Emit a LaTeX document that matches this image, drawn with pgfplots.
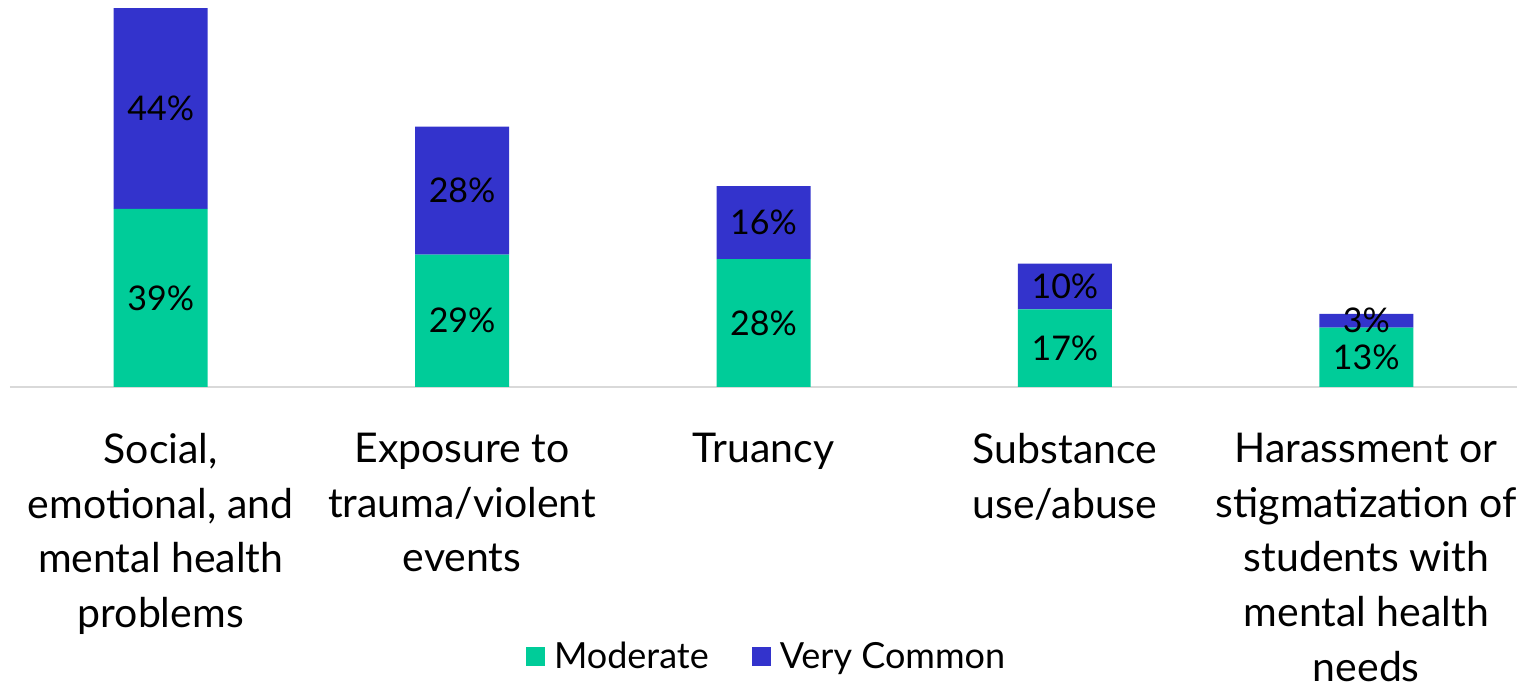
\documentclass[border=0pt]{standalone}
\usepackage{fontspec}
\setmainfont{Lato}
\usepackage{pgfplots}
\usepackage{pgfplotstable}
\pgfplotsset{compat=1.18}
\definecolor{cmod}{HTML}{00CC99}
\definecolor{cvc}{HTML}{3333CC}
\pgfplotstableread{
x mod vc
0 39 44
1 29 28
2 28 16
3 17 10
4 13 3
}\datatable
\begin{document}
\begin{tikzpicture}
\useasboundingbox (0,0) rectangle (763pt,344pt);
\begin{axis}[
  at={(5pt,150.5pt)}, anchor=south west,
  width=753.5pt, height=189.5pt, scale only axis,
  ybar stacked, bar width=47pt,
  xmin=-0.5, xmax=4.5, ymin=0, ymax=83,
  axis y line=none, axis x line*=bottom,
  x axis line style={draw=black!15, line width=0.8pt},
  /pgf/number format/assume math mode=true,
  xtick=data,
  xticklabels={{Social,\\emotional, and\\mental health\\problems},{Exposure to\\trauma/violent\\events},{Truancy},{Substance\\use/abuse},{Harassment or\\stigmatization of\\students with\\mental health\\needs}},
  major tick length=0pt,
  xticklabel style={font=\fontsize{20.5}{27.3}\selectfont, align=center, anchor=north, inner sep=0pt, yshift=-23pt},
  point meta=explicit,
  nodes near coords={\pgfmathprintnumber{\pgfplotspointmeta}\%},
  every node near coord/.append style={font=\fontsize{17}{20}\selectfont, anchor=center, text=black},
  legend style={at={(0.5027,-0.712)}, anchor=center, draw=none, legend columns=2, font=\fontsize{18}{22}\selectfont, /tikz/column 1/.style={column sep=2.5pt}, /tikz/column 2/.style={column sep=19.5pt}, /tikz/column 3/.style={column sep=2.5pt}},
  legend image code/.code={\fill[#1] (0pt,-4.75pt) rectangle (9.5pt,4.75pt);},
]
\addplot[fill=cmod, draw=none] table[x=x,y=mod,meta=mod]{\datatable};
\addplot[fill=cvc, draw=none] table[x=x,y=vc,meta=vc]{\datatable};
\legend{Moderate, Very Common}
\end{axis}
\end{tikzpicture}
\end{document}
